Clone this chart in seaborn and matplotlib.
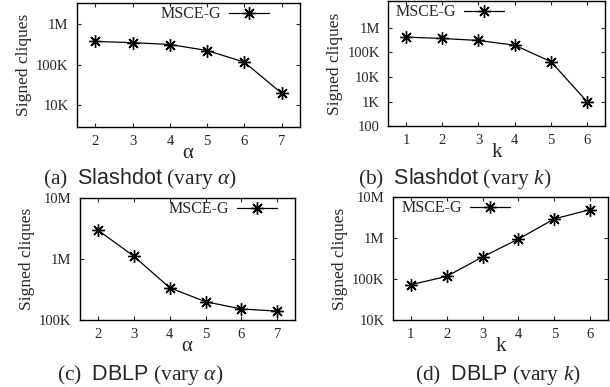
import matplotlib
matplotlib.use("Agg")
import matplotlib.pyplot as plt
import matplotlib.ticker as mticker
import pandas as pd
import seaborn as sns

# data
alpha_vals = [2, 3, 4, 5, 6, 7]
k_vals = [1, 2, 3, 4, 5, 6]
slashdot_alpha = [374000, 350000, 315000, 224000, 116000, 20000]
slashdot_k = [415000, 366000, 303000, 195000, 42000, 1000]
dblp_alpha = [2990000, 1120000, 339000, 200000, 152000, 140000]
dblp_k = [72600, 116000, 346000, 945000, 2920000, 4940000]

series_label = "MSCE-G"
ylabel = "Signed cliques"
captions = [r"(a)  $\mathsf{Slashdot}$ (vary $\alpha$)",
            r"(b)  $\mathsf{Slashdot}$ (vary $k$)",
            r"(c)  $\mathsf{DBLP}$ (vary $\alpha$)",
            r"(d)  $\mathsf{DBLP}$ (vary $k$)"]

sns.set_style("ticks")
plt.rcParams["font.family"] = ["Liberation Serif", "DejaVu Serif"]
plt.rcParams["mathtext.fontset"] = "custom"
plt.rcParams["mathtext.rm"] = "Liberation Serif"
plt.rcParams["mathtext.it"] = "Liberation Serif:italic"
plt.rcParams["mathtext.sf"] = "Liberation Sans"


def fmt_count(v, pos):
    if v >= 1e6:
        return f"{int(round(v / 1e6))}M"
    if v >= 1e3:
        return f"{int(round(v / 1e3))}K"
    return f"{int(round(v))}"


fig = plt.figure(figsize=(6.1, 3.87), dpi=100)

panels = [
    # x, y, xlabel, ylim, yticks, legend loc, legend anchor, axes rect, caption pos
    (alpha_vals, slashdot_alpha, r"$\mathrm{\alpha}$", (3000, 3.3e6), [1e4, 1e5, 1e6],
     "upper right", (0.875, 1.0), [0.126, 0.673, 0.366, 0.319], (0.230, 0.540)),
    (k_vals, slashdot_k, "k", (100, 1.2e7), [100, 1e3, 1e4, 1e5, 1e6],
     "upper left", (0.02, 1.0), [0.636, 0.674, 0.356, 0.323], (0.746, 0.540)),
    (alpha_vals, dblp_alpha, r"$\mathrm{\alpha}$", (1e5, 1e7), [1e5, 1e6, 1e7],
     "upper right", (0.93, 1.0), [0.131, 0.173, 0.353, 0.315], (0.230, 0.031)),
    (k_vals, dblp_k, "k", (1e4, 1e7), [1e4, 1e5, 1e6, 1e7],
     "upper left", (0.025, 1.0), [0.644, 0.173, 0.353, 0.318], (0.816, 0.031)),
]

for i, (xs, ys, xl, ylim, yticks, loc, anchor, rect, cap) in enumerate(panels):
    ax = fig.add_axes(rect)
    df = pd.DataFrame({"x": xs, "y": ys})
    sns.lineplot(data=df, x="x", y="y", ax=ax, color="black", linewidth=0.9,
                 marker=(8, 2, 0), markersize=9, markeredgewidth=1.0,
                 markeredgecolor="black", label=series_label)
    ax.set_yscale("log")
    ax.set_ylim(*ylim)
    ax.set_xlim(xs[0] - 0.5, xs[-1] + 0.5)
    ax.set_xticks(xs)
    ax.set_yticks(yticks)
    ax.yaxis.set_major_formatter(mticker.FuncFormatter(fmt_count))
    ax.yaxis.set_minor_locator(mticker.NullLocator())
    ax.tick_params(direction="in", top=True, right=True, length=3, width=0.8,
                   labelsize=10.5, pad=6)
    for s in ax.spines.values():
        s.set_linewidth(1.0)
        s.set_color("black")
    ax.set_xlabel(xl, fontsize=15, labelpad=-3)
    ax.set_ylabel(ylabel, fontsize=12.5, labelpad=3)
    ax.legend(loc=loc, bbox_to_anchor=anchor, frameon=False, markerfirst=False,
              fontsize=11.5, handlelength=2.5, borderaxespad=0.0, borderpad=0.2,
              handletextpad=0.5)
    fig.text(cap[0], cap[1], captions[i], ha="center", va="center", fontsize=15.5)

fig.savefig("out.png", dpi=100)
